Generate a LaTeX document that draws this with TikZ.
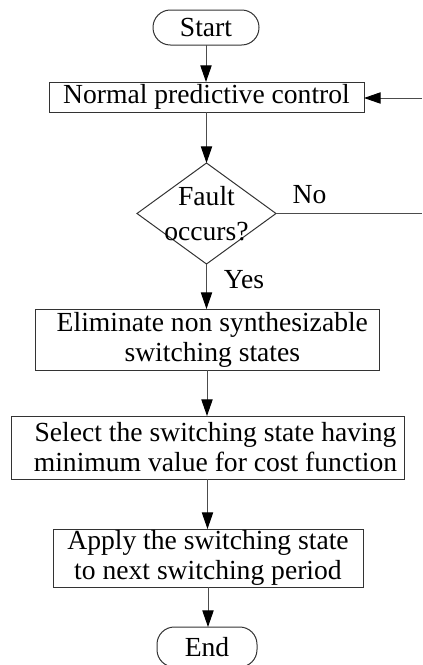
\documentclass[tikz,border=0pt]{standalone}
\usepackage{fontspec}
\setmainfont{Liberation Serif}
\usetikzlibrary{shapes.geometric,arrows.meta}

\begin{document}
\begin{tikzpicture}[x=0.75pt, y=-0.75pt, outer sep=0pt, line width=0.75pt,
  font=\fontsize{20.7}{22.5}\selectfont, >={Triangle[length=12.5pt,width=8.5pt,color=black,fill=black]}]

\useasboundingbox (0,0) rectangle (422,665);

\tikzstyle{terminal}=[draw=black!80, rounded corners=13pt, minimum width=79.5pt, minimum height=26.25pt, inner sep=0pt]
\tikzstyle{process}=[draw=black!80, align=center, inner sep=0pt]
\tikzstyle{decision}=[draw=black!80, diamond, inner sep=0pt, minimum width=104.25pt, minimum height=75.75pt]
\tikzstyle{flow}=[draw=black!70, ->]

% steps of the flow chart
\node[terminal] (start) at (206,27.5) {Start};
\node[process, minimum width=236.25pt, minimum height=22.5pt] (normal) at (206.5,97) {Normal predictive control};
\node[decision] (fault) at (206.5,213.5) {};
\node[align=center, font=\fontsize{20.7}{26.25}\selectfont] (faulttext) at (206.5,214) {Fault\\occurs?};
\node[process, minimum width=258pt, minimum height=45.75pt] (elim) at (207,339.5) {\hspace*{8pt}Eliminate non synthesizable\\\hspace*{8pt}switching states};
\node[process, minimum width=294.75pt, minimum height=47.25pt] (select) at (207.5,447.5) {\hspace*{12pt}Select the switching state having\\\hspace*{12pt}minimum value for cost function};
\node[process, minimum width=232.5pt, minimum height=43.5pt] (apply) at (208,558) {Apply the switching state\\to next switching period};
\node[terminal, minimum width=75pt, minimum height=30pt] (end) at (207,647) {End};

\node[anchor=base] (nolbl) at (309.5,203) {No};
\node[anchor=base] (yeslbl) at (244,288) {Yes};

% loop back to the control block
\coordinate (loopin) at (422,98);
\coordinate (loopout) at (422,213.5);

\draw[flow] (start) -- (start.south |- normal.north);
\draw[flow] (normal.south) -- (normal.south |- fault.north);
\draw[flow] (fault.south) -- (fault.south |- elim.north);
\draw[flow] (elim.south) -- (elim.south |- select.north);
\draw[flow] (select.south) -- (select.south |- apply.north);
\draw[flow] (apply.south) -- (apply.south |- end.north);
\draw[flow] (loopin) -- (loopin -| normal.east);
\draw[draw=black!70] (fault.east) -- (loopout);

\end{tikzpicture}
\end{document}
